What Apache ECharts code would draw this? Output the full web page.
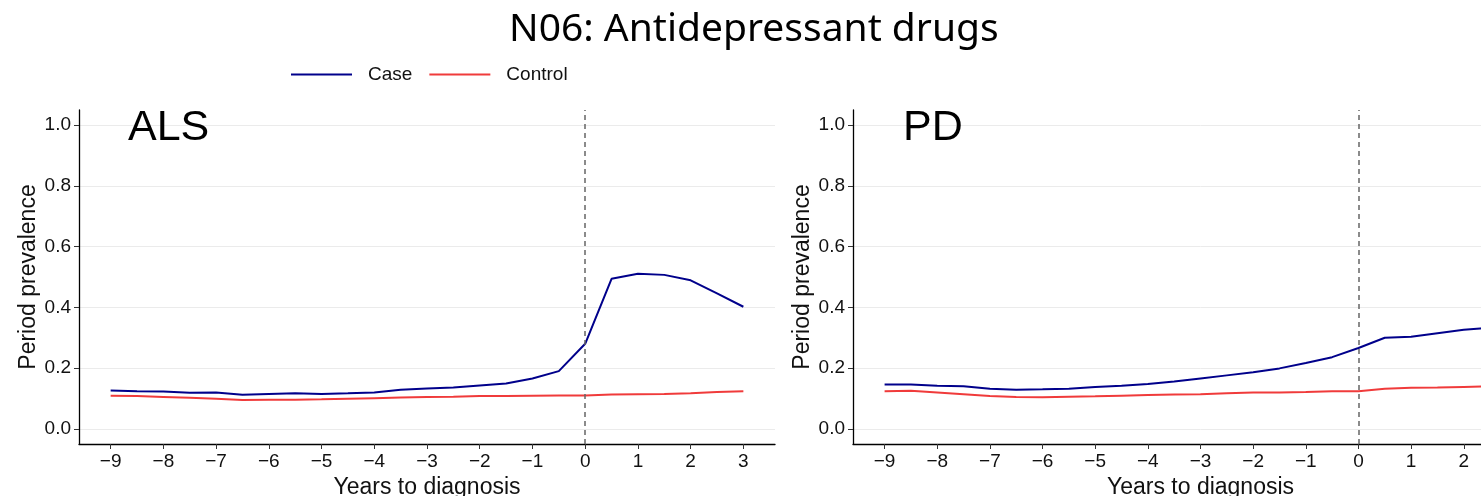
<!DOCTYPE html>
<html>
<head>
<meta charset="utf-8">
<script src="https://cdn.jsdelivr.net/npm/echarts@6/dist/echarts.min.js"></script>
<style>
  html, body { margin: 0; padding: 0; background: #fff; overflow: hidden; }
  /* the right panel runs past the window edge in the original, so the canvas is wider */
  #chart { width: 1560px; height: 496px; }
</style>
</head>
<body>
<div id="chart"></div>
<script>
// years relative to diagnosis (half-year steps)
const years = [-9, -8.5, -8, -7.5, -7, -6.5, -6, -5.5, -5, -4.5, -4, -3.5, -3,
               -2.5, -2, -1.5, -1, -0.5, 0, 0.5, 1, 1.5, 2, 2.5, 3];

const alsCase    = [0.126, 0.124, 0.123, 0.119, 0.120, 0.112, 0.115, 0.117, 0.115, 0.117, 0.120, 0.129, 0.133,
                    0.136, 0.143, 0.149, 0.166, 0.190, 0.280, 0.494, 0.511, 0.507, 0.489, 0.446, 0.402];
const alsControl = [0.109, 0.108, 0.105, 0.102, 0.099, 0.095, 0.096, 0.096, 0.097, 0.099, 0.101, 0.103, 0.105,
                    0.106, 0.108, 0.108, 0.109, 0.110, 0.110, 0.113, 0.114, 0.115, 0.117, 0.121, 0.124];
const pdCase     = [0.146, 0.146, 0.142, 0.140, 0.132, 0.129, 0.130, 0.132, 0.138, 0.142, 0.148, 0.156, 0.166,
                    0.176, 0.186, 0.199, 0.217, 0.236, 0.266, 0.300, 0.303, 0.315, 0.326, 0.333, 0.338];
const pdControl  = [0.124, 0.125, 0.120, 0.114, 0.108, 0.105, 0.104, 0.106, 0.107, 0.109, 0.111, 0.113, 0.114,
                    0.117, 0.120, 0.120, 0.121, 0.124, 0.124, 0.132, 0.135, 0.136, 0.138, 0.140, 0.141];

const xTicks = [-9, -8, -7, -6, -5, -4, -3, -2, -1, 0, 1, 2, 3];
const yTicks = [0, 0.2, 0.4, 0.6, 0.8, 1.0];
const panels = ['ALS', 'PD'];

const CASE_COLOR = '#00008B';
const CTRL_COLOR = '#F03B3B';
const AXIS_FONT = 'Liberation Sans';
const TEXT_COLOR = '#111';

const chart = echarts.init(document.getElementById('chart'));

const pairs = (vals) => years.map((x, i) => [x, vals[i]]);

function xAxisFor(idx) {
    return {
        type: 'value', gridIndex: idx, min: -9.6, max: 3.6,
        name: 'Years to diagnosis', nameLocation: 'middle', nameGap: 29,
        nameTextStyle: { fontFamily: AXIS_FONT, fontSize: 23, color: TEXT_COLOR },
        axisLine: { onZero: false, lineStyle: { color: '#000', width: 1.3 } },
        axisTick: { customValues: xTicks, length: 5, lineStyle: { color: '#333' } },
        axisLabel: {
            customValues: xTicks, margin: 8, fontFamily: AXIS_FONT, fontSize: 19, color: TEXT_COLOR,
            formatter: v => String(v).replace('-', '\u2212')
        },
        splitLine: { show: false }
    };
}

function yAxisFor(idx) {
    return {
        type: 'value', gridIndex: idx, min: -0.05, max: 1.05,
        name: 'Period prevalence', nameLocation: 'middle', nameGap: 39,
        nameTextStyle: { fontFamily: AXIS_FONT, fontSize: 23, color: TEXT_COLOR },
        axisLine: { show: true, onZero: false, lineStyle: { color: '#000', width: 1.3 } },
        axisTick: { show: true, customValues: yTicks, length: 5, lineStyle: { color: '#333' } },
        axisLabel: {
            customValues: yTicks, margin: 8, fontFamily: AXIS_FONT, fontSize: 19, color: TEXT_COLOR,
            formatter: v => v.toFixed(1)
        },
        splitLine: { show: true, lineStyle: { color: '#ebebeb', width: 1 } }
    };
}

const series = [];
[[alsCase, alsControl], [pdCase, pdControl]].forEach(([c, k], idx) => {
    series.push({
        name: 'Case', type: 'line', xAxisIndex: idx, yAxisIndex: idx,
        data: pairs(c), symbol: 'none', z: 3,
        lineStyle: { color: CASE_COLOR, width: 2 }, itemStyle: { color: CASE_COLOR },
        markLine: {
            silent: true, symbol: 'none', label: { show: false },
            lineStyle: { color: '#666', type: [5, 4], width: 1.5 },
            data: [{ xAxis: 0 }]
        }
    });
    series.push({
        name: 'Control', type: 'line', xAxisIndex: idx, yAxisIndex: idx,
        data: pairs(k), symbol: 'none', z: 2,
        lineStyle: { color: CTRL_COLOR, width: 2 }, itemStyle: { color: CTRL_COLOR }
    });
});

chart.setOption({
    animation: false,
    title: [
        { text: 'N06: Antidepressant drugs', left: 504, top: 5,
          textStyle: { fontFamily: 'Noto Sans', fontSize: 39, fontWeight: 'normal', color: '#000' } },
        { text: panels[0], left: 123, top: 102,
          textStyle: { fontFamily: AXIS_FONT, fontSize: 43, fontWeight: 'normal', color: '#000' } },
        { text: panels[1], left: 898, top: 102,
          textStyle: { fontFamily: AXIS_FONT, fontSize: 43, fontWeight: 'normal', color: '#000' } }
    ],
    legend: {
        data: ['Case', 'Control'], left: 286, top: 60,
        icon: 'rect', itemWidth: 61, itemHeight: 2, itemGap: 17,
        textStyle: { fontFamily: AXIS_FONT, fontSize: 19, color: TEXT_COLOR, padding: [0, 0, 0, 11] }
    },
    grid: [
        { left: 79, top: 110, width: 696, height: 334, outerBoundsMode: 'none' },
        { left: 853, top: 110, width: 695, height: 334, outerBoundsMode: 'none' }
    ],
    xAxis: [xAxisFor(0), xAxisFor(1)],
    yAxis: [yAxisFor(0), yAxisFor(1)],
    series: series
});
</script>
</body>
</html>
